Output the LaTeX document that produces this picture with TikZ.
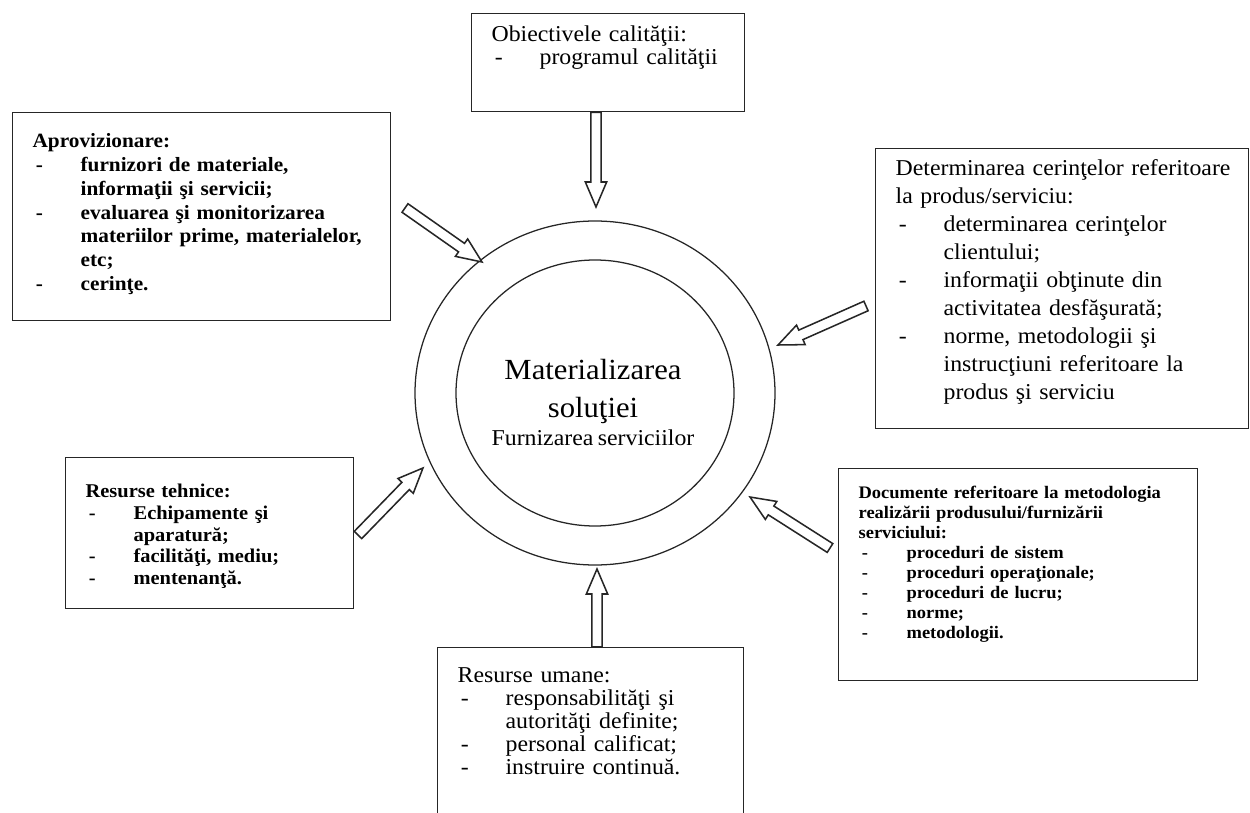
\documentclass[tikz,border=0pt]{standalone}
\usepackage{fontspec}
\setmainfont{Liberation Serif}[FakeStretch=1.05]
\usetikzlibrary{shapes.geometric,calc}

\newcommand{\dsh}{\makebox[36pt][l]{\hspace{2.5pt}-}}
\newcommand{\ind}{\hspace*{36pt}}
\newcommand{\hollowarrow}[2]{%
  \coordinate (hb) at ($(#2)!18.75pt!(#1)$);
  \draw [flow] ($(#1)!3.9pt!90:(#2)$) -- ($(hb)!3.9pt!90:(#2)$) -- ($(hb)!8pt!90:(#2)$) -- (#2) -- ($(hb)!8pt!-90:(#2)$) -- ($(hb)!3.9pt!-90:(#2)$) -- ($(#1)!3.9pt!-90:(#2)$) -- cycle ;}

\tikzset{
  box/.style={draw=black!85, line width=0.95pt, anchor=north west, align=left, inner xsep=15pt, inner ysep=0pt},
  flow/.style={draw=black!85, line width=1.15pt, fill=white, line join=miter},
  ring/.style={ellipse, draw=black!85, line width=0.95pt, inner sep=0pt, outer sep=0pt},
}

\begin{document}
\begin{tikzpicture}[x=0.75pt,y=0.75pt,yscale=-1,xscale=1]
\useasboundingbox (0,0) rectangle (1250,813);
\clip (0,0) rectangle (1250,813);

%Shape: Ellipse
\node [ring, minimum width=270pt, minimum height=258pt] (outer) at (595,393) {};
%Shape: Ellipse
\node [ring, minimum width=208.5pt, minimum height=199.5pt] (inner) at (595,393) {};
% Text Node
\node [text width=200pt, align=center, anchor=base, inner sep=0pt] (title) at (593,379) {{\fontsize{21.9}{28.5}\selectfont Materializarea\\ soluţiei\par}{\fontsize{17}{21}\selectfont Furnizarea serviciilor\par}};

%Shape: Rectangle
\node [box, text width=174.75pt, text height=21pt, text depth=52.5pt, font=\fontsize{17}{17.25}\selectfont] (obj) at (471,13) {Obiectivele calităţii:\\ \dsh programul calităţii};
%Shape: Rectangle
\node [box, text width=253.5pt, text height=26.25pt, text depth=129.75pt, font=\bfseries\fontsize{15.2}{17.85}\selectfont] (aprov) at (12,112) {Aprovizionare:\\ \dsh furnizori de materiale,\\ \ind informaţii şi servicii;\\ \dsh evaluarea şi monitorizarea\\ \ind materiilor prime, materialelor,\\ \ind etc;\\ \dsh cerinţe.};
%Shape: Rectangle
\node [box, text width=249.75pt, text height=20.25pt, text depth=189.75pt, font=\fontsize{17}{21}\selectfont] (det) at (875,148) {\makebox[\linewidth][s]{Determinarea cerinţelor referitoare}\\ la produs/serviciu:\\ \dsh determinarea cerinţelor\\ \ind clientului;\\ \dsh informaţii obţinute din\\ \ind activitatea desfăşurată;\\ \dsh norme, metodologii şi\\ \ind instrucţiuni referitoare la\\ \ind produs şi serviciu};
%Shape: Rectangle
\node [box, text width=239.25pt, text height=22.5pt, text depth=136.5pt, font=\bfseries\fontsize{13.2}{15}\selectfont] (docs) at (838,468) {Documente referitoare la metodologia\\ realizării produsului/furnizării\\ serviciului:\\ \dsh proceduri de sistem\\ \dsh proceduri operaţionale;\\ \dsh proceduri de lucru;\\ \dsh norme;\\ \dsh metodologii.};
%Shape: Rectangle
\node [box, text width=186pt, text height=30pt, text depth=83.25pt, font=\bfseries\fontsize{14.6}{16.3}\selectfont] (tech) at (65,457) {Resurse tehnice:\\ \dsh Echipamente şi\\ \ind aparatură;\\ \dsh facilităţi, mediu;\\ \dsh mentenanţă.};
%Shape: Rectangle
\node [box, text width=199.5pt, text height=26.25pt, text depth=111pt, font=\fontsize{17}{17.25}\selectfont] (human) at (437,647) {Resurse umane:\\ \dsh responsabilităţi şi\\ \ind autorităţi definite;\\ \dsh personal calificat;\\ \dsh instruire continuă.};

%Block Arrows
\coordinate (obj-in) at (596,207);
\coordinate (obj-out) at (obj.south -| obj-in);
\hollowarrow{obj-out}{obj-in}
\coordinate (aprov-out) at (405,208);
\coordinate (aprov-in) at (482,262);
\hollowarrow{aprov-out}{aprov-in}
\coordinate (det-out) at (866,306);
\coordinate (det-in) at (778,345);
\hollowarrow{det-out}{det-in}
\coordinate (tech-out) at (358,535);
\coordinate (tech-in) at (423,468);
\hollowarrow{tech-out}{tech-in}
\coordinate (human-in) at (597,569);
\coordinate (human-out) at (human.north -| human-in);
\hollowarrow{human-out}{human-in}
\coordinate (docs-out) at (830,548);
\coordinate (docs-in) at (750,497);
\hollowarrow{docs-out}{docs-in}

\end{tikzpicture}
\end{document}
